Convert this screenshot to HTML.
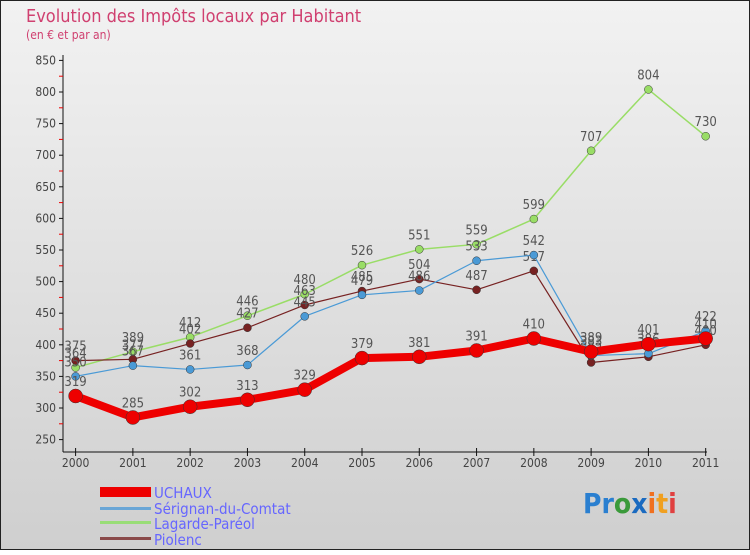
<!DOCTYPE html>
<html><head><meta charset="utf-8"><style>
body{margin:0;width:750px;height:550px;overflow:hidden;font-family:"Liberation Sans",sans-serif}
svg text{font-family:"DejaVu Sans Condensed","Liberation Sans",sans-serif}
</style></head><body>
<svg id="c" width="750" height="550" xmlns="http://www.w3.org/2000/svg">
<defs><linearGradient id="bg" x1="0" y1="0" x2="0" y2="1"><stop offset="0" stop-color="#f2f2f2"/><stop offset="1" stop-color="#cfcfcf"/></linearGradient></defs>
<rect x="0.5" y="0.5" width="749" height="549" fill="url(#bg)" stroke="#222"/>
<text x="26" y="22" font-size="18" fill="#d04070">Evolution des Impôts locaux par Habitant</text>
<text x="26" y="39" font-size="12" fill="#d04070">(en € et par an)</text>
<g id="axes"></g><g id="series"></g>
<g font-size="15" fill="#6666ff">
<rect x="100" y="487" width="51" height="10" fill="#e00"/>
<text x="154" y="498">UCHAUX</text>
<rect x="100" y="507" width="51" height="3" fill="#6aa6d6"/>
<text x="154" y="514">Sérignan-du-Comtat</text>
<rect x="100" y="521" width="51" height="3" fill="#99dd77"/>
<text x="154" y="529">Lagarde-Paréol</text>
<rect x="100" y="537" width="51" height="3" fill="#8a4a4a"/>
<text x="154" y="545">Piolenc</text>
</g>
<text x="583" y="513" font-size="28" font-weight="bold"><tspan fill="#2a7fd0">Pr</tspan><tspan fill="#3a9a3a">o</tspan><tspan fill="#1a6ac0">x</tspan><tspan fill="#f07020">i</tspan><tspan fill="#f0a020">t</tspan><tspan fill="#e04040">i</tspan></text>
</svg>
<script>
const years=["2000","2001","2002","2003","2004","2005","2006","2007","2008","2009","2010","2011"];
const yTicks=[250,300,350,400,450,500,550,600,650,700,750,800,850];
const uchaux=[319,285,302,313,329,379,381,391,410,389,401,410];
const serignan=[350,367,361,368,445,479,486,533,542,383,386,422];
const lagarde=[364,389,412,446,480,526,551,559,599,707,804,730];
const piolenc=[375,377,402,427,463,485,504,487,517,372,381,400];
const NS="http://www.w3.org/2000/svg";
const X=i=>75.6+i*57.28, Y=v=>408-(v-300)*0.632;
function mk(t,a,p){const e=document.createElementNS(NS,t);for(const k in a)e.setAttribute(k,a[k]);p.appendChild(e);return e;}
const ax=document.getElementById('axes');
const yl=mk('line',{x1:63,y1:55,x2:63,y2:452,stroke:'#111'},ax);


const xl=mk('line',{x1:63,y1:452,x2:707,y2:452,stroke:'#111'},ax);


yTicks.forEach((v,i)=>{
 mk('line',{x1:59,x2:63,y1:Y(v),y2:Y(v),stroke:'#111'},ax);
 if(i<yTicks.length-1) mk('line',{x1:59,x2:63,y1:Y(v+25),y2:Y(v+25),stroke:'#e00'},ax);
 const t=mk('text',{x:56,y:Y(v)+4,'font-size':12,fill:'#444','text-anchor':'end'},ax);
 
 
 t.textContent=v;
});
years.forEach((y,i)=>{
 mk('line',{x1:X(i),x2:X(i),y1:448,y2:456,stroke:'#111'},ax);
 const t=mk('text',{x:X(i),y:467,'font-size':12,fill:'#444','text-anchor':'middle'},ax);
 
 
 t.textContent=y;
});
const sg=document.getElementById('series');
function draw(d,name,col,w,r){
 const g=mk('g',{},sg);
 
 
 const pl=mk('polyline',{points:d.map((v,i)=>X(i)+','+Y(v)).join(' '),fill:'none',stroke:col,'stroke-width':w,'stroke-linejoin':'round'},g);
 
 
 d.forEach((v,i)=>{
  const c=mk('circle',{cx:X(i),cy:Y(v),r:r,fill:col,stroke:'#333','stroke-width':0.5},g);
  
  
  const t=mk('text',{x:X(i),y:Y(v)-10,'font-size':13,fill:'#555','text-anchor':'middle'},g);
  
  
  t.textContent=v;
 });
}
draw(lagarde,'lagarde','#99dd66',1.5,4);
draw(piolenc,'piolenc','#772222',1.2,4);
draw(serignan,'serignan','#4a9ad6',1.2,4);
draw(uchaux,'uchaux','#ee0000',8,7);
</script>
</body></html>
